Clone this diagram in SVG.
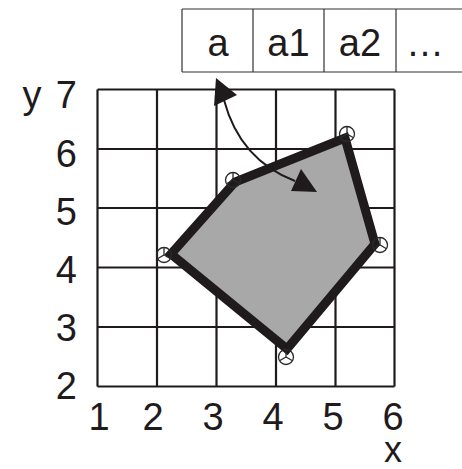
<svg xmlns="http://www.w3.org/2000/svg" width="462" height="469" viewBox="0 0 462 469">
<style>
.t{font-family:"Liberation Sans",Arial,sans-serif;font-size:38px;fill:#1f1b1c}
.g{stroke:#1f1b1c;stroke-width:2.2;fill:none}
.tb{stroke:#333;stroke-width:1.2;fill:none}
.v{fill:none;stroke:#2a2a2a;stroke-width:1.3}
</style>
<defs>
<g id="vm"><circle r="7.5" class="v"/><path d="M0,-7.5V0M-6.5,3.8L0,0L6.5,3.8" class="v"/></g>
</defs>
<g id="table">
<path class="tb" d="M182,9H462M182,72H462M182,9V72M253,9V72M324,9V72M396,9V72"/>
<text class="t" x="218" y="56" text-anchor="middle">a</text>
<text class="t" x="288.5" y="56" text-anchor="middle">a1</text>
<text class="t" x="360" y="56" text-anchor="middle">a2</text>
<text class="t" x="425" y="56" text-anchor="middle">…</text>
</g>
<g id="grid">
<path class="g" d="M97.5,89.5H394.5M97.5,149H394.5M97.5,208H394.5M97.5,267.5H394.5M97.5,327H394.5M97.5,386.5H394.5M97.5,89.5V386.5M157,89.5V386.5M216.5,89.5V386.5M276,89.5V386.5M335.5,89.5V386.5M394.5,89.5V386.5"/>
</g>
<g id="axis-labels">
<text class="t" x="32" y="108" text-anchor="middle">y</text>
<text class="t" x="77" y="108" text-anchor="end">7</text>
<text class="t" x="77" y="167" text-anchor="end">6</text>
<text class="t" x="77" y="225" text-anchor="end">5</text>
<text class="t" x="77" y="283" text-anchor="end">4</text>
<text class="t" x="77" y="341" text-anchor="end">3</text>
<text class="t" x="77" y="399" text-anchor="end">2</text>
<text class="t" x="99" y="430" text-anchor="middle">1</text>
<text class="t" x="153" y="430" text-anchor="middle">2</text>
<text class="t" x="213" y="430" text-anchor="middle">3</text>
<text class="t" x="273" y="430" text-anchor="middle">4</text>
<text class="t" x="333" y="430" text-anchor="middle">5</text>
<text class="t" x="393" y="430" text-anchor="middle">6</text>
<text class="t" x="393" y="462" text-anchor="middle" style="font-size:36px">x</text>
</g>
<g id="polygon">
<polygon points="171,254 287,349 375,244 345,138 235,182" fill="#a8a8a8" stroke="#1f1b1c" stroke-width="9" stroke-linejoin="miter"/>
</g>
<g id="vertices">
<use href="#vm" x="164" y="255"/>
<use href="#vm" x="286" y="357"/>
<use href="#vm" x="380" y="245"/>
<use href="#vm" x="347" y="134"/>
<use href="#vm" x="233" y="180"/>
</g>
<g id="connectors">
<path d="M224,100 Q240,160 295,181" fill="none" stroke="#1f1b1c" stroke-width="2"/>
<polygon points="216,78 237,95 214,106" fill="#1f1b1c"/>
<polygon points="301,169 317,192 291,191" fill="#1f1b1c"/>
</g>
</svg>
